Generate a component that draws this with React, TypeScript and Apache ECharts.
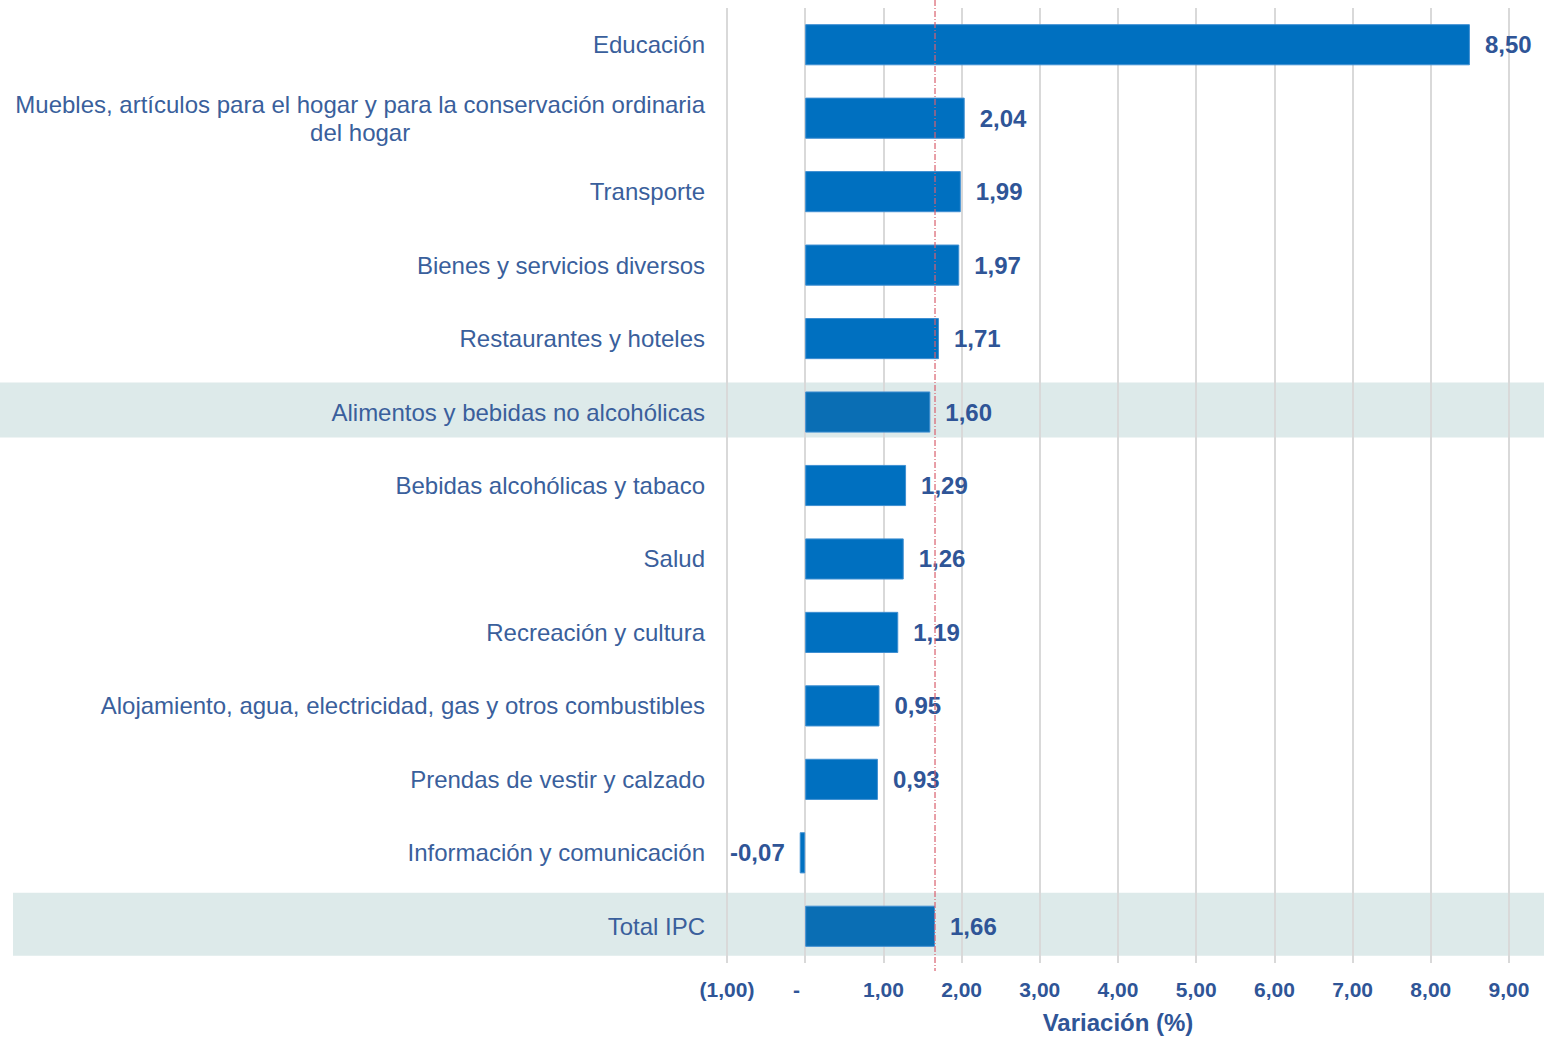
import React, { useEffect, useRef } from "react";
import * as echarts from "echarts";

const categories = [
  "Educación",
  "Muebles, artículos para el hogar y para la conservación ordinaria\ndel hogar",
  "Transporte",
  "Bienes y servicios diversos",
  "Restaurantes y hoteles",
  "Alimentos y bebidas no alcohólicas",
  "Bebidas alcohólicas y tabaco",
  "Salud",
  "Recreación y cultura",
  "Alojamiento, agua, electricidad, gas y otros combustibles",
  "Prendas de vestir y calzado",
  "Información y comunicación",
  "Total IPC",
];
const values = [8.5, 2.04, 1.99, 1.97, 1.71, 1.6, 1.29, 1.26, 1.19, 0.95, 0.93, -0.07, 1.66];
const highlighted = ["Alimentos y bebidas no alcohólicas", "Total IPC"];
const referenceValue = 1.66;
const xMin = -1;
const xMax = 9;
const xInterval = 1;
const axisName = "Variación (%)";

const TEXT = "#2F5597";
const LABEL = "#3A5F9C";
const BAR = "#0070C0";
const BAR_HL = "#0A6EB4";
const BAND = "#DDEAEA";
const FONT = "'Liberation Sans', Arial, sans-serif";

const fmt = (v: number) => {
  if (Math.abs(v) < 1e-9) return "-   ";
  const s = Math.abs(v).toFixed(2).replace(".", ",");
  return v < 0 ? `(${s})` : s;
};

export default function App() {
  const ref = useRef<HTMLDivElement>(null);
  useEffect(() => {
    document.body.style.margin = "0";
    if (!ref.current) return;
    const chart = echarts.init(ref.current, null, { renderer: "svg", width: 1544, height: 1039 });
    const option: any = {
      animation: false,
      backgroundColor: "#ffffff",
      grid: { left: 727, right: 35, top: 8, bottom: 72, containLabel: false },
      xAxis: {
        type: "value",
        min: xMin,
        max: xMax,
        interval: xInterval,
        name: axisName,
        nameLocation: "middle",
        nameGap: 47,
        nameTextStyle: { color: TEXT, fontWeight: "bold", fontSize: 24, fontFamily: FONT },
        axisLine: { show: false },
        axisTick: { show: false },
        splitLine: { show: true, lineStyle: { color: "#D9D9D9", width: 2 } },
        axisLabel: {
          formatter: (v: number) => fmt(v),
          color: TEXT,
          fontWeight: "bold",
          fontSize: 21,
          fontFamily: FONT,
          margin: 16,
        },
      },
      yAxis: {
        type: "category",
        inverse: true,
        data: categories,
        axisLine: { show: false },
        axisTick: { show: false },
        splitLine: { show: false },
        axisLabel: {
          color: LABEL,
          fontSize: 24,
          fontFamily: FONT,
          margin: 22,
          lineHeight: 28,
          formatter: (v: string) =>
            v.includes("\n")
              ? v
                  .split("\n")
                  .map((l) => `{c|${l}}`)
                  .join("\n")
              : v,
          rich: {
            c: { align: "center", color: LABEL, fontSize: 24, fontFamily: FONT, lineHeight: 28 },
          },
        },
      },
      series: [
        {
          type: "bar",
          z: 3,
          barCategoryGap: "44%",
          data: values.map((v, i) => ({
            value: v,
            itemStyle: {
              color: highlighted.includes(categories[i]) ? BAR_HL : BAR,
            },
            label: v < 0 ? { position: "left" } : undefined,
          })),
          itemStyle: { borderColor: "#3F8FD2", borderWidth: 1 },
          label: {
            show: true,
            position: "right",
            distance: 15,
            color: TEXT,
            fontWeight: "bold",
            fontSize: 24,
            fontFamily: FONT,
            formatter: (p: any) => p.value.toFixed(2).replace(".", ","),
          },
        },
      ],
    };
    chart.setOption(option);

    const c0 = chart.convertToPixel({ yAxisIndex: 0 }, categories[0]) as number;
    const c1 = chart.convertToPixel({ yAxisIndex: 0 }, categories[1]) as number;
    const step = Math.abs(c1 - c0);
    const graphics: any[] = [];
    highlighted.forEach((name, k) => {
      const cy = chart.convertToPixel({ yAxisIndex: 0 }, name) as number;
      const isTotal = k === 1;
      const h = step * (isTotal ? 0.86 : 0.75);
      graphics.push({
        type: "rect",
        z: -10,
        silent: true,
        shape: { x: isTotal ? 13 : 0, y: cy - h / 2 - 2, width: 1544, height: h },
        style: { fill: BAND },
      });
    });
    const rx = chart.convertToPixel({ xAxisIndex: 0 }, referenceValue) as number;
    const gridBottom = (chart.convertToPixel({ yAxisIndex: 0 }, categories[categories.length - 1]) as number) + step / 2;
    graphics.push({
      type: "line",
      z: 10,
      silent: true,
      shape: { x1: rx, y1: 0, x2: rx, y2: gridBottom + 8 },
      style: { stroke: "#D9606E", lineWidth: 1.2, lineDash: [6, 2, 1, 2] },
    });
    chart.setOption({ graphic: graphics });

    return () => chart.dispose();
  }, []);
  return (
    <div
      ref={ref}
      style={{ position: "absolute", left: 0, top: 0, width: 1544, height: 1039 }}
    />
  );
}
